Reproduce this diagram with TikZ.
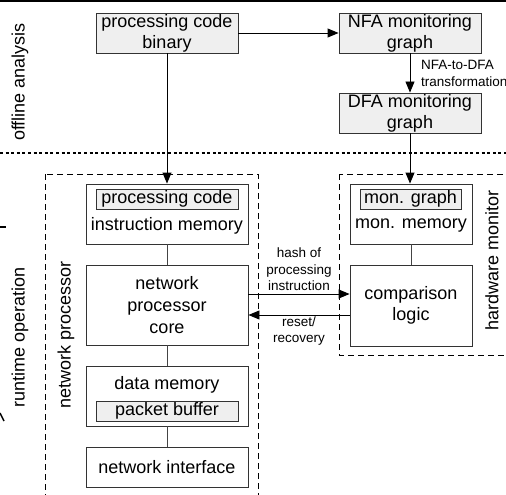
\documentclass[tikz,border=0pt]{standalone}
\usepackage{fontspec}
\setmainfont{Liberation Sans}
\usetikzlibrary{arrows.meta}

\definecolor{boxline}{HTML}{333333}
\definecolor{boxfill}{HTML}{EFEFEF}
\definecolor{linkgray}{HTML}{444444}

\tikzset{
  txt/.style={font=\fontsize{18}{21}\selectfont, inner sep=0pt, align=center},
  small/.style={font=\fontsize{13.5}{16.5}\selectfont, inner sep=0pt},
  graybox/.style={draw=boxline, fill=boxfill, line width=0.9pt, minimum width=142pt,
    minimum height=40pt, txt},
  unitbox/.style={draw=boxline, fill=white, line width=0.9pt, minimum width=162pt, txt},
  innerbox/.style={draw=boxline, fill=boxfill, line width=0.9pt, minimum height=20pt, txt},
  region/.style={draw=black, line width=0.8pt, dash pattern=on 6pt off 4pt},
  sidelabel/.style={txt, rotate=90},
  arr/.style={draw=black, line width=0.9pt, -{Triangle[length=11pt,width=9pt]}},
  link/.style={draw=linkgray, line width=0.9pt},
}

\begin{document}
\begin{tikzpicture}[x=1pt, y=-1pt]
  \useasboundingbox (0,0) rectangle (506,495);
  \clip (0,0) rectangle (506,495);

  % top rule and phase separator
  \draw[line width=2.2pt] (-5,1) -- (511,1);
  \draw[line width=2pt, dash pattern=on 3pt off 2.6pt] (0,153) -- (506,153);

  % offline analysis
  \node[graybox] (bin) at (167,33) {processing code\\binary};
  \node[graybox] (nfa) at (410,33) {NFA monitoring\\graph};
  \node[graybox] (dfa) at (410,113) {DFA monitoring\\graph};
  \node[small, anchor=west, align=left] (ndlab) at (421,73.5) {NFA-to-DFA\\transformation};

  % network processor region
  \draw[region] (45,174) rectangle (258,510);
  \node[unitbox, minimum height=60pt] (imem) at (167,214) {};
  \node[innerbox, minimum width=142pt] (pcode) at (167,199) {processing code};
  \node[txt] (imemtxt) at (167,226) {instruction memory};
  \node[unitbox, minimum height=80pt] (core) at (167,305) {network\\[1pt]processor\\[1pt]core};
  \node[unitbox, minimum height=60pt] (dmem) at (167,396) {};
  \node[txt] (dmemtxt) at (167,385) {data memory};
  \node[innerbox, minimum width=142pt] (pbuf) at (167,411) {packet buffer};
  \node[unitbox, minimum height=40pt] (nif) at (167,467) {network interface};

  % hardware monitor region
  \draw[region] (339,174) rectangle (515,355);
  \node[unitbox, minimum width=122pt, minimum height=60pt] (mmem) at (411,214) {};
  \node[innerbox, minimum width=101pt] (mgraph) at (410.5,199) {mon. graph};
  \node[txt] (mmemtxt) at (411,226) {mon. memory};
  \node[unitbox, minimum width=122pt, minimum height=81pt] (cmp) at (411,305.5) {comparison\\logic};

  % side labels
  \node[sidelabel] (offl) at (20,82) {offline analysis};
  \node[sidelabel] (runl) at (20,337) {runtime operation};
  \node[sidelabel] (npl) at (66,335) {network processor};
  \node[sidelabel] (hml) at (492,260) {hardware monitor};

  % flow in the offline phase
  \draw[arr] (bin.east) -- (nfa.west);
  \draw[arr] (nfa.south) -- (dfa.south |- dfa.north);
  \draw[arr] (bin.south) -- (imem.north);
  \draw[arr] (dfa.south) -- (dfa.south |- mmem.north);

  % internal links
  \draw[link] (imem.south) -- (core.north);
  \draw[link] (core.south) -- (dmem.north);
  \draw[link] (dmem.south) -- (nif.north);
  \draw[link] (mmem.south) -- (cmp.north);

  % processor <-> monitor
  \draw[arr] (core.east |- 0,294) -- (cmp.west |- 0,294);
  \draw[arr] (cmp.west |- 0,315) -- (core.east |- 0,315);
  \node[small, align=center] (hashlab) at (299,269.5) {hash of\\processing\\instruction};
  \node[small, align=center] (rstlab) at (299,331) {reset/\\recovery};

  % marks at the left edge
  \draw[line width=2pt] (0,227) -- (6,227);
  \draw[line width=1.4pt] (0,413) -- (4,421);
\end{tikzpicture}
\end{document}
